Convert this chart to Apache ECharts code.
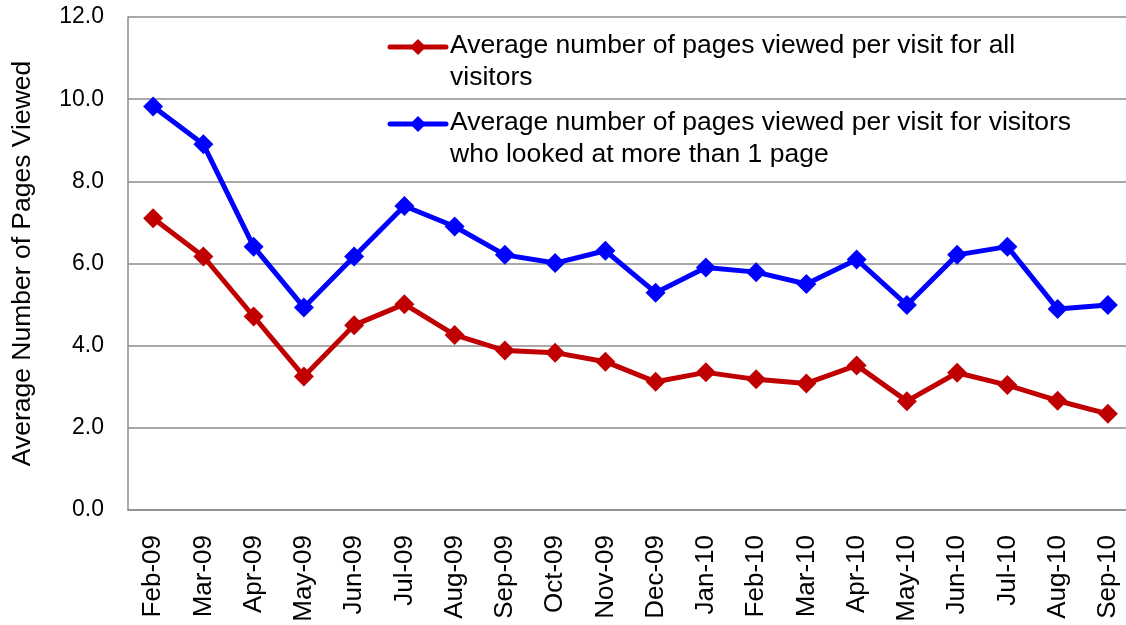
<!DOCTYPE html>
<html>
<head>
<meta charset="utf-8">
<script src="https://cdn.jsdelivr.net/npm/echarts@6/dist/echarts.min.js"></script>
<style>
  html, body { margin: 0; padding: 0; background: #fff; }
  #chart { width: 1126px; height: 625px; }
</style>
</head>
<body>
<div id="chart"></div>
<script>
// Monthly average page views per visit
const months = ['Feb-09', 'Mar-09', 'Apr-09', 'May-09', 'Jun-09', 'Jul-09', 'Aug-09', 'Sep-09', 'Oct-09', 'Nov-09',
  'Dec-09', 'Jan-10', 'Feb-10', 'Mar-10', 'Apr-10', 'May-10', 'Jun-10', 'Jul-10', 'Aug-10', 'Sep-10'];
const allVisitors = [7.10, 6.17, 4.71, 3.25, 4.50, 5.01, 4.26, 3.88, 3.83, 3.61,
  3.12, 3.35, 3.18, 3.08, 3.52, 2.65, 3.34, 3.04, 2.66, 2.34];
const multiPageVisitors = [9.82, 8.90, 6.41, 4.93, 6.17, 7.40, 6.90, 6.21, 6.01, 6.31,
  5.29, 5.90, 5.79, 5.50, 6.10, 4.99, 6.21, 6.41, 4.89, 4.99];
const yTicks = { min: 0, max: 12, interval: 2 };
const legendLines = [
  ['Average number of pages viewed per visit for all', 'visitors'],
  ['Average number of pages viewed per visit for visitors', 'who looked at more than 1 page']
];

const RED = '#C00000';
const BLUE = '#0000FF';
const GRID = '#8C8C8C';
const FONT = '"Liberation Sans", Arial, sans-serif';

// Custom legend: sample line with a diamond, followed by two-line text
function legendItem(color, lines, y) {
  return [
    { type: 'line', shape: { x1: 390, y1: y, x2: 446, y2: y },
      style: { stroke: color, lineWidth: 5, lineCap: 'round' } },
    { type: 'polygon', shape: { points: [[418, y - 8], [426, y], [418, y + 8], [410, y]] },
      style: { fill: color } },
    { type: 'text', left: 450, top: y - 17,
      style: { text: lines.join('\n'), fill: '#000', font: '26.5px ' + FONT, lineHeight: 32 } }
  ];
}

const chart = echarts.init(document.getElementById('chart'));
chart.setOption({
  animation: false,
  backgroundColor: '#fff',
  // plot area runs slightly past the right edge of the canvas
  grid: { left: 128, width: 1005, top: 17, bottom: 115, outerBoundsMode: 'none', containLabel: false },
  xAxis: {
    type: 'category',
    data: months,
    boundaryGap: true,
    axisLine: { lineStyle: { color: GRID, width: 1.5 } },
    axisTick: { show: false },
    axisLabel: { rotate: 90, margin: 25, color: '#000', fontFamily: FONT, fontSize: 26 }
  },
  yAxis: {
    type: 'value',
    min: yTicks.min, max: yTicks.max, interval: yTicks.interval,
    name: 'Average Number of Pages Viewed',
    nameLocation: 'middle',
    nameGap: 92,
    nameTextStyle: { color: '#000', fontFamily: FONT, fontSize: 26.5 },
    axisLine: { show: true, lineStyle: { color: GRID, width: 1.5 } },
    axisTick: { show: false },
    splitLine: { lineStyle: { color: GRID, width: 1.5 } },
    axisLabel: {
      margin: 24, color: '#000', fontFamily: FONT, fontSize: 23,
      formatter: v => v.toFixed(1)
    }
  },
  series: [
    {
      name: 'all', type: 'line', data: allVisitors,
      symbol: 'diamond', symbolSize: 20,
      lineStyle: { color: RED, width: 5 },
      itemStyle: { color: RED }
    },
    {
      name: 'multi', type: 'line', data: multiPageVisitors,
      symbol: 'diamond', symbolSize: 20,
      lineStyle: { color: BLUE, width: 5 },
      itemStyle: { color: BLUE }
    }
  ],
  graphic: [
    ...legendItem(RED, legendLines[0], 47),
    ...legendItem(BLUE, legendLines[1], 124)
  ]
});
</script>
</body>
</html>
